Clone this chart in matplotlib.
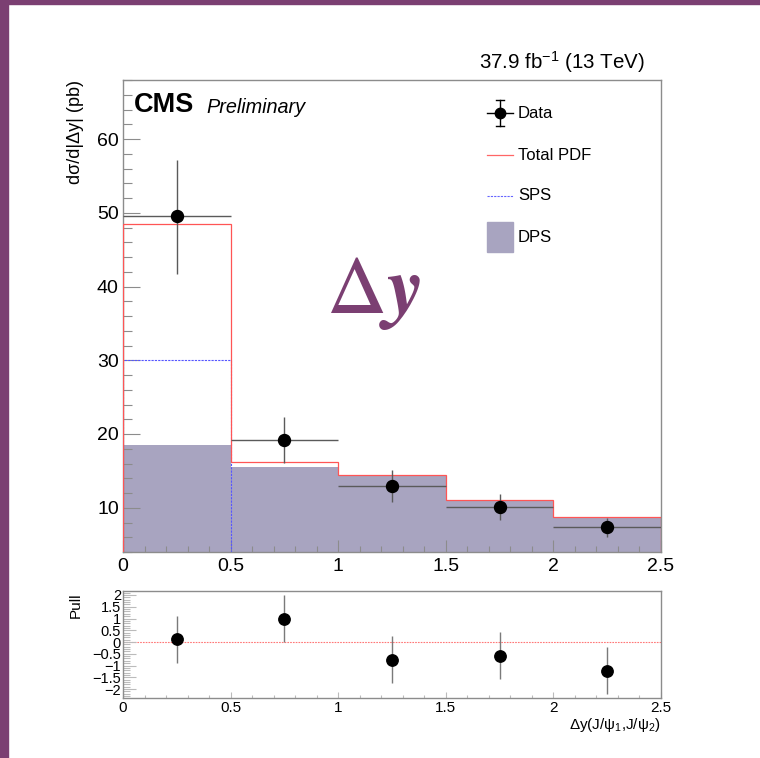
import numpy as np
import matplotlib
matplotlib.use('Agg')
import matplotlib.pyplot as plt
from matplotlib.lines import Line2D
from matplotlib.patches import Rectangle
from matplotlib.ticker import MultipleLocator

plt.rcParams['font.family'] = ['Liberation Sans', 'DejaVu Sans']
plt.rcParams['mathtext.fontset'] = 'custom'
plt.rcParams['mathtext.rm'] = 'Liberation Sans'
plt.rcParams['mathtext.it'] = 'Liberation Sans:italic'

# bins of |delta y|
edges = [0.0, 0.5, 1.0, 1.5, 2.0, 2.5]
centers = [0.25, 0.75, 1.25, 1.75, 2.25]
data_y = [49.5, 19.15, 12.9, 10.1, 7.35]
data_lo = [41.7, 16.1, 10.8, 8.4, 6.1]
data_hi = [57.2, 22.25, 15.1, 11.8, 8.55]
total_pdf = [48.5, 16.2, 14.5, 11.1, 8.8]
sps = [30.1, 0.7, 0.1, 0.1, 0.1]
dps = [18.5, 15.5, 14.4, 11.0, 8.7]
pull = [0.12, 1.0, -0.76, -0.58, -1.22]
pull_err = [1.0, 1.0, 1.0, 1.0, 1.0]

W, H = 760, 758
PURPLE = '#7b3f72'
FRAME = '#8c8c8c'
DPS_COL = '#a8a4c0'


def fx(x):
    return x / W


def fy(y):
    return 1 - y / H


fig = plt.figure(figsize=(7.6, 7.58), dpi=100)
fig.patches.append(Rectangle((0, 0), fx(8), 1, transform=fig.transFigure,
                             color=PURPLE, zorder=0))
fig.patches.append(Rectangle((0, fy(4)), 1, 1 - fy(4), transform=fig.transFigure,
                             color=PURPLE, zorder=0))

ax = fig.add_axes([fx(123), fy(552), fx(661) - fx(123), fy(80) - fy(552)])
axp = fig.add_axes([fx(123), fy(698), fx(661) - fx(123), fy(591) - fy(698)])

# main pane
ax.stairs(dps, edges, fill=True, color=DPS_COL, zorder=1)
ax.stairs(sps, edges, color='#5555ff', lw=0.8, ls=(0, (2, 1)), zorder=2)
ax.stairs(total_pdf, edges, color='#ff5555', lw=0.9, zorder=3)
yerr = [np.subtract(data_y, data_lo), np.subtract(data_hi, data_y)]
ax.errorbar(centers, data_y, xerr=0.25, yerr=yerr, fmt='o', ms=8.6,
            color='black', ecolor='#5a5a5a', elinewidth=1.0, capsize=0, zorder=5)

ax.set_xlim(0, 2.5)
ax.set_ylim(4.0, 68.0)
ax.yaxis.set_major_locator(MultipleLocator(10))
ax.yaxis.set_minor_locator(MultipleLocator(2))
ax.xaxis.set_minor_locator(MultipleLocator(0.1))
ax.set_xticks([0, 0.5, 1, 1.5, 2, 2.5])
ax.set_xticklabels(['0', '0.5', '1', '1.5', '2', '2.5'])
ax.tick_params(axis='both', which='both', direction='in', color=FRAME,
               labelsize=14, top=False, right=False)
ax.tick_params(axis='y', which='major', length=12, width=0.8, pad=3)
ax.tick_params(axis='y', which='minor', length=6.5, width=0.8)
ax.tick_params(axis='x', which='major', length=9, width=0.8, pad=4)
ax.tick_params(axis='x', which='minor', length=4.5, width=0.8)
for s in ax.spines.values():
    s.set_color(FRAME)
    s.set_linewidth(1.0)

# pull pane
axp.axhline(0, color='#ff7777', lw=0.8, ls=(0, (1.5, 1)), zorder=1)
axp.errorbar(centers, pull, yerr=pull_err, fmt='o', ms=8.2, color='black',
             ecolor='#7a7a7a', elinewidth=1.0, capsize=0, zorder=5)
axp.set_xlim(0, 2.5)
axp.set_ylim(-2.38, 2.17)
axp.set_yticks([-2, -1.5, -1, -0.5, 0, 0.5, 1, 1.5, 2])
axp.set_yticklabels(['\u22122', '\u22121.5', '\u22121', '\u22120.5', '0',
                     '0.5', '1', '1.5', '2'])
axp.yaxis.set_minor_locator(MultipleLocator(0.1))
axp.set_xticks([0, 0.5, 1, 1.5, 2, 2.5])
axp.set_xticklabels(['0', '0.5', '1', '1.5', '2', '2.5'])
axp.xaxis.set_minor_locator(MultipleLocator(0.1))
axp.tick_params(axis='both', which='both', direction='in', color='#bbbbbb',
                labelsize=11, top=False, right=False)
axp.tick_params(axis='y', which='major', length=9, width=0.8, pad=1.5, labelsize=10.5)
axp.tick_params(axis='y', which='minor', length=5, width=0.8)
axp.tick_params(axis='x', which='major', length=4, width=0.8, pad=2)
axp.tick_params(axis='x', which='minor', length=2, width=0.8)
for s in axp.spines.values():
    s.set_color(FRAME)
    s.set_linewidth(1.0)

# texts
fig.text(fx(645), fy(69), '37.9 fb$^{-1}$ (13 TeV)', ha='right', va='baseline',
         fontsize=14.8)
fig.text(fx(134), fy(112), 'CMS', ha='left', va='baseline', fontsize=19.5,
         fontweight='bold')
fig.text(fx(206), fy(113), 'Preliminary', ha='left', va='baseline', fontsize=14.3,
         style='italic')
fig.text(fx(76), fy(80), 'd\u03c3/d|\u0394y| (pb)', rotation=90, ha='center',
         va='top', fontsize=13)
fig.text(fx(76), fy(592), 'Pull', rotation=90, ha='center', va='top', fontsize=11)
fig.text(fx(661), fy(729), '\u0394y(J/\u03c8$_{1}$,J/\u03c8$_{2}$)',
         ha='right', va='baseline', fontsize=11)
fig.text(fx(326), fy(313), r'$\Delta\boldsymbol{y}$', ha='left', va='baseline',
         fontsize=60, color=PURPLE, math_fontfamily='stix')

# legend (drawn by hand to match placement)
leg_x0, leg_x1, leg_xc = 487, 513, 500
fig.add_artist(Line2D([fx(leg_x0), fx(leg_x1)], [fy(113), fy(113)], color='black', lw=1))
fig.add_artist(Line2D([fx(leg_xc), fx(leg_xc)], [fy(100), fy(126)], color='black', lw=1))
for yy in (100, 126):
    fig.add_artist(Line2D([fx(leg_xc - 4), fx(leg_xc + 4)], [fy(yy), fy(yy)],
                          color='black', lw=1))
fig.add_artist(Line2D([fx(leg_xc)], [fy(113)], marker='o', ms=7.5, color='black', lw=0))
fig.add_artist(Line2D([fx(leg_x0), fx(leg_x1)], [fy(155), fy(155)], color='#ff6666', lw=0.9))
fig.add_artist(Line2D([fx(leg_x0), fx(leg_x1)], [fy(196), fy(196)], color='#6666ff',
                      lw=0.8, ls=(0, (2, 1))))
fig.patches.append(Rectangle((fx(487), fy(252)), fx(513) - fx(487), fy(222) - fy(252),
                             transform=fig.transFigure, color=DPS_COL))
for label, yy in (('Data', 113), ('Total PDF', 155), ('SPS', 196), ('DPS', 238)):
    fig.text(fx(518), fy(yy), label, ha='left', va='center', fontsize=12)

fig.savefig('out.png', dpi=100)
